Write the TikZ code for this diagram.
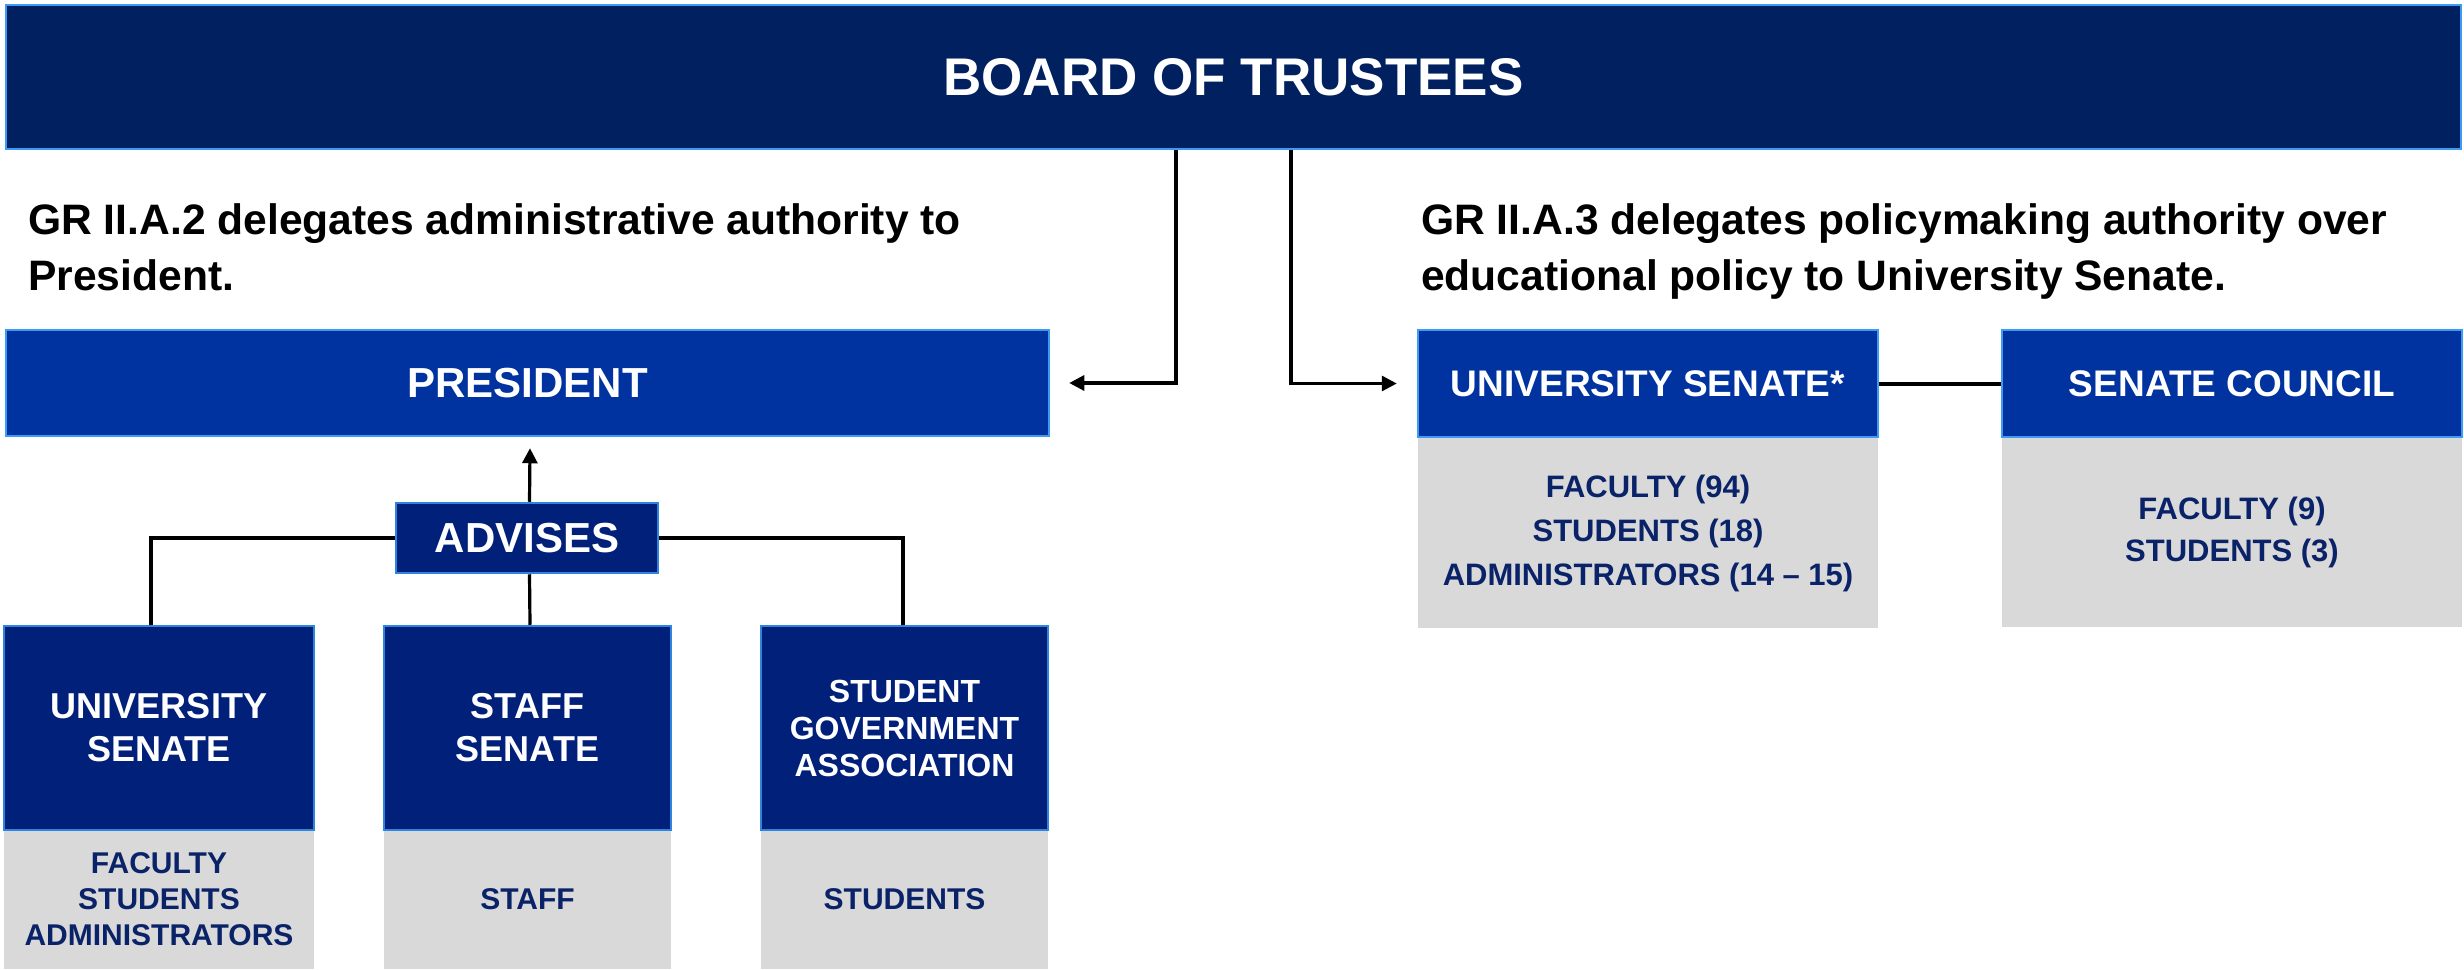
\documentclass[tikz,border=0pt]{standalone}
\usepackage{fontspec}
\setmainfont{Liberation Sans}
\usetikzlibrary{arrows.meta}
\definecolor{navy}{HTML}{002060}
\definecolor{midblue}{HTML}{0033A0}
\definecolor{lowblue}{HTML}{00207A}
\definecolor{edgeblue}{HTML}{3D9BF5}
\definecolor{edgeblue2}{HTML}{2F84E0}
\definecolor{graybox}{HTML}{D9D9D9}
\definecolor{graytext}{HTML}{0A2268}
\begin{document}
\begin{tikzpicture}[x=1pt,y=-1pt,
  hbox/.style={draw=edgeblue,line width=2.5pt,fill=#1,text=white,inner sep=0pt,align=center},
  lbox/.style={draw=edgeblue2,line width=2.5pt,fill=lowblue,text=white,inner sep=0pt,align=center},
  gbox/.style={fill=graybox,draw=none,text=graytext,inner sep=0pt,align=center},
  para/.style={anchor=north west,inner sep=0pt,align=left,text=black,font=\bfseries\fontsize{42.6}{56}\selectfont},
  conn/.style={draw=black,line width=3.2pt},
  tip/.style={-{Triangle[length=15pt,width=15pt]}}
]
\useasboundingbox (0,0) rectangle (2464,969);

% Board
\node[hbox=navy,minimum width=2455pt,minimum height=144pt,font=\bfseries\fontsize{53}{60}\selectfont] (board) at (1233.5,77) {BOARD OF TRUSTEES};

% paragraphs
\node[para] (lpara) at (28,203) {GR II.A.2 delegates administrative authority to\\President.};
\node[para] (rpara) at (1421,203) {GR II.A.3 delegates policymaking authority over\\educational policy to University Senate.};

% President
\node[hbox=midblue,minimum width=1043pt,minimum height=106pt,font=\bfseries\fontsize{42}{48}\selectfont] (pres) at (527.5,383) {PRESIDENT};

% University Senate* and Senate Council
\node[gbox,minimum width=460pt,minimum height=190pt,font=\bfseries\fontsize{31}{44}\selectfont] (usg) at (1648,533) {FACULTY (94)\\STUDENTS (18)\\ADMINISTRATORS (14 – 15)};
\node[gbox,minimum width=460pt,minimum height=190pt,font=\bfseries\fontsize{31}{42}\selectfont] (scg) at (2232,532) {FACULTY (9)\\STUDENTS (3)};
\node[hbox=midblue,minimum width=460pt,minimum height=107pt,font=\bfseries\fontsize{37}{43}\selectfont] (us) at (1648,383.5) {UNIVERSITY SENATE*};
\node[hbox=midblue,minimum width=460pt,minimum height=107pt,font=\bfseries\fontsize{37}{43}\selectfont] (sc) at (2232,383.5) {SENATE COUNCIL};

% Advises
\node[lbox,minimum width=262pt,minimum height=70pt,font=\bfseries\fontsize{42}{48}\selectfont] (adv) at (527,538) {ADVISES};

% lower boxes
\node[gbox,minimum width=310pt,minimum height=139pt,font=\bfseries\fontsize{30}{36}\selectfont] (uslg) at (159,899.5) {FACULTY\\STUDENTS\\ADMINISTRATORS};
\node[gbox,minimum width=287pt,minimum height=139pt,font=\bfseries\fontsize{30}{36}\selectfont] (stg) at (527.5,899.5) {STAFF};
\node[gbox,minimum width=287pt,minimum height=139pt,font=\bfseries\fontsize{30}{36}\selectfont] (sgag) at (904.5,899.5) {STUDENTS};
\node[lbox,minimum width=310pt,minimum height=204pt,font=\bfseries\fontsize{36}{43}\selectfont] (usl) at (159,728) {UNIVERSITY\\SENATE};
\node[lbox,minimum width=287pt,minimum height=204pt,font=\bfseries\fontsize{36}{43}\selectfont] (staff) at (527.5,728) {STAFF\\SENATE};
\node[lbox,minimum width=287pt,minimum height=204pt,font=\bfseries\fontsize{32}{37}\selectfont] (sga) at (904.5,728) {STUDENT\\GOVERNMENT\\ASSOCIATION};

% connectors
\draw[conn,tip] ([xshift=-57.5pt]board.south) |- ([xshift=19pt]pres.east);
\draw[conn,tip] ([xshift=57.5pt]board.south) |- ([xshift=-20pt]us.west);
\draw[conn,line width=4pt] (us.east) -- (sc.west);
\draw[conn,tip] ([xshift=2.5pt]adv.north) -- ([xshift=2.5pt,yshift=-11pt]pres.south);
\draw[conn] (adv.west) -| ([xshift=-8pt]usl.north);
\draw[conn] (adv.east) -| ([xshift=-1.5pt]sga.north);
\draw[conn] ([xshift=2.5pt]adv.south) -- ([xshift=2.5pt]staff.north);
\end{tikzpicture}
\end{document}
